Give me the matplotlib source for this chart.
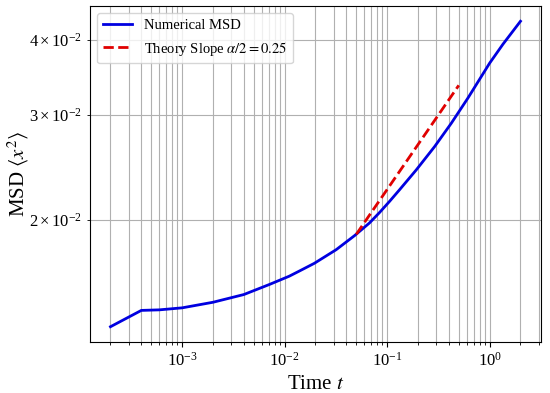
import matplotlib
matplotlib.use("Agg")
import matplotlib.pyplot as plt

plt.rcParams['font.family'] = 'serif'
plt.rcParams['font.serif'] = ['Liberation Serif', 'DejaVu Serif']
plt.rcParams['mathtext.fontset'] = 'stix'

# Numerical MSD curve
t_num = [2e-4, 4e-4, 6e-4, 1e-3, 2e-3, 4e-3, 7.08e-3, 1.11e-2, 1.39e-2, 1.95e-2,
         3.18e-2, 4.8e-2, 6.73e-2, 8.43e-2, 0.1055, 0.1322, 0.1925, 0.2905,
         0.4231, 0.615, 1.0, 1.352, 2.0]
msd_num = [0.01323, 0.01409, 0.01412, 0.01423, 0.01454, 0.01498, 0.01557, 0.01608,
           0.01640, 0.01690, 0.01781, 0.01880, 0.01975, 0.02056, 0.02146, 0.02245,
           0.02424, 0.02652, 0.02903, 0.03200, 0.03660, 0.03940, 0.04303]

# Theory line endpoints (slope alpha/2 = 0.25)
t_theory = [0.05, 0.5]
msd_theory = [0.0189, 0.0336]

fig = plt.figure(figsize=(5.5, 3.93), dpi=100)
ax = fig.add_axes([0.1636, 0.1298, 0.82, 0.855])

ax.loglog(t_num, msd_num, color='#0000e0', lw=2, label='Numerical MSD')
ax.loglog(t_theory, msd_theory, color='#e00000', lw=2, ls='--',
          label=r'Theory Slope $\alpha/2 = 0.25$')

ax.grid(True, which='both', color='#b0b0b0', lw=0.8)
ax.set_xlabel(r'Time $t$', fontsize=15)
ax.set_ylabel(r'MSD $\langle x^2 \rangle$', fontsize=15, labelpad=-1)
ax.tick_params(axis='both', which='both', labelsize=12)
ax.legend(loc='upper left', fontsize=10.5)

fig.savefig('out.png', dpi=100)
